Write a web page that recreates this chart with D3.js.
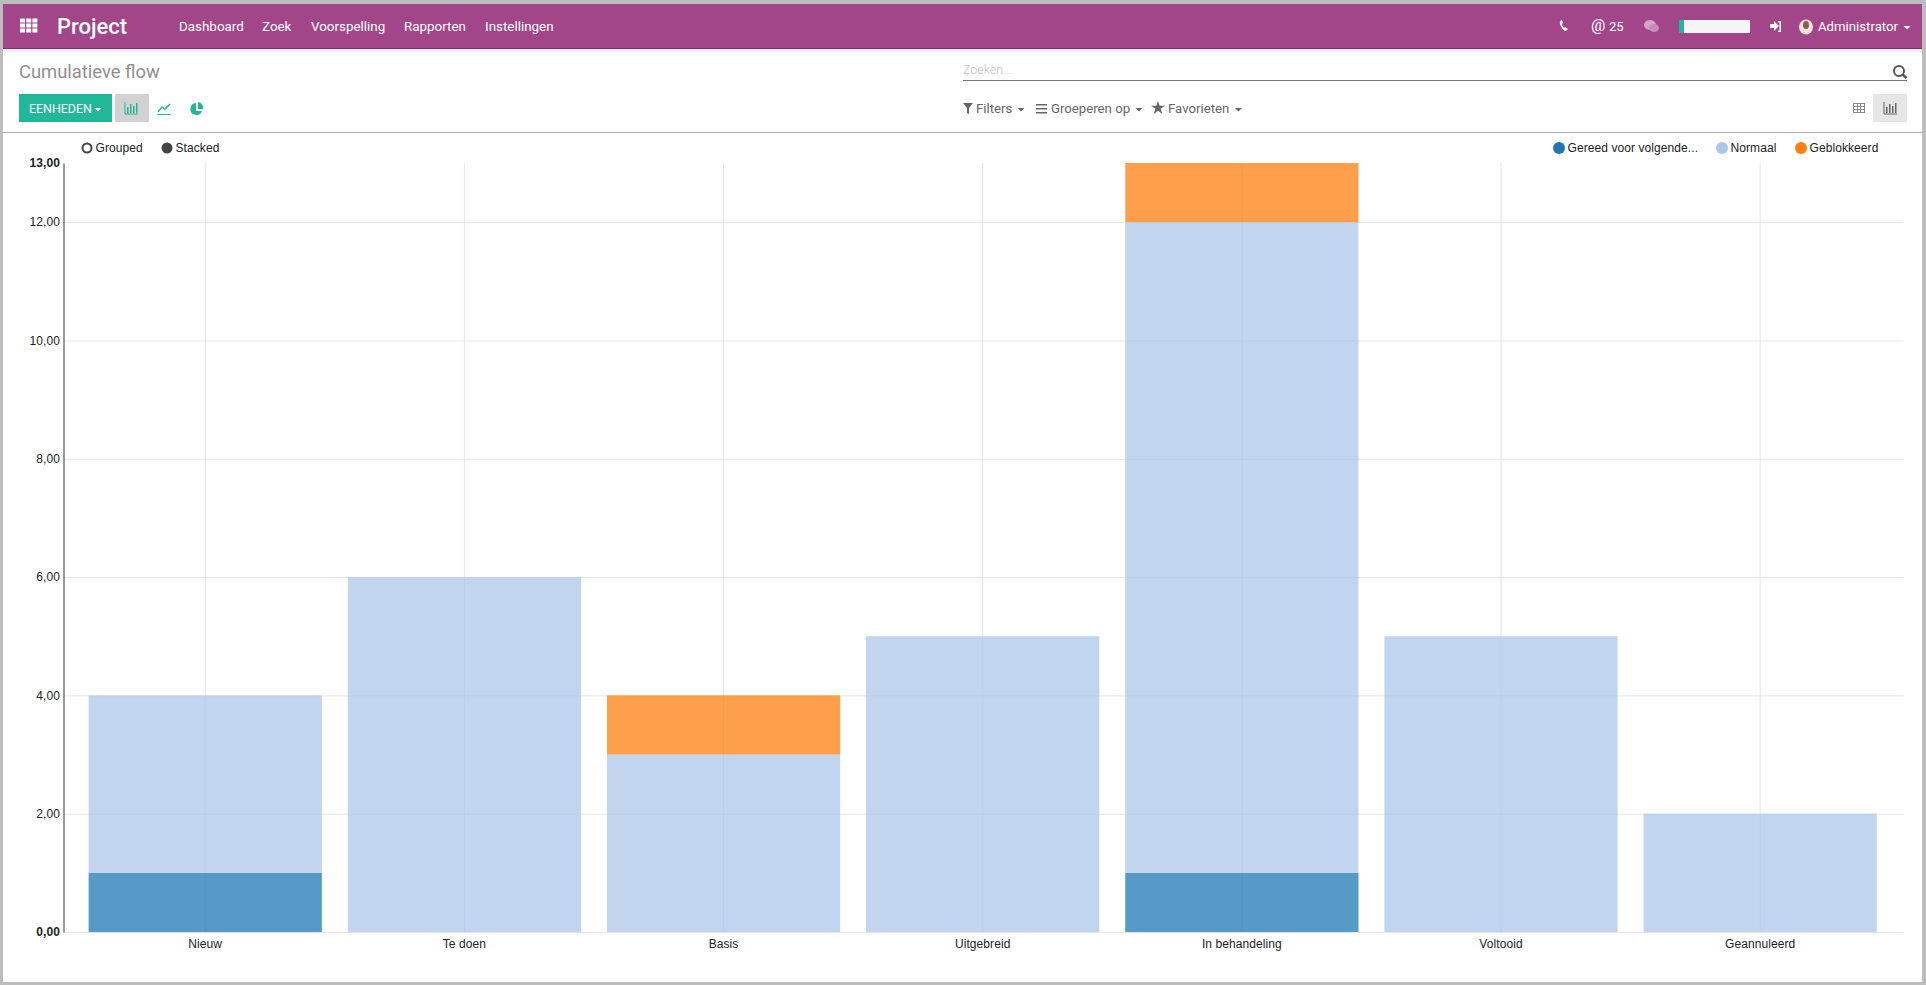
<!DOCTYPE html>
<html>
<head>
<meta charset="utf-8">
<title>Cumulatieve flow</title>
<script src="https://cdnjs.cloudflare.com/ajax/libs/d3/7.8.5/d3.min.js"></script>
<style>
  html, body { margin: 0; padding: 0; background: #fff; overflow: hidden; }
  svg { display: block; }
  .ui { font-family: Roboto, sans-serif; }
  .chart text { font-family: "Liberation Sans", Arial, sans-serif; font-size: 12px; fill: #222; letter-spacing: 0.08px; }
  .grid line { stroke: #e5e5e5; }
  .grid path { display: none; }
  .axis-y path { stroke: #333; }
  .axis-y line { display: none; }
  .axis-x path { stroke: #e5e5e5; }
  .axis-x line { display: none; }
</style>
</head>
<body>
<svg id="page" width="1926" height="985"></svg>
<script>
const categories = ["Nieuw", "Te doen", "Basis", "Uitgebreid", "In behandeling", "Voltooid", "Geannuleerd"];
const seriesNames = ["Gereed voor volgende...", "Normaal", "Geblokkeerd"];
const seriesColors = ["#1f77b4", "#aec7e8", "#ff7f0e"];
const gereed = [1, 0, 0, 0, 1, 0, 0];
const normaal = [3, 6, 3, 5, 11, 5, 2];
const geblokkeerd = [0, 0, 1, 0, 1, 0, 0];
const yTicks = [0, 2, 4, 6, 8, 10, 12, 13];
const navItems = [["Dashboard", 179], ["Zoek", 262], ["Voorspelling", 311], ["Rapporten", 404], ["Instellingen", 485]];

const svg = d3.select("#page");
const ui = svg.append("g").attr("class", "ui");

// window frame and top bar
ui.append("rect").attr("width", 1926).attr("height", 985).attr("fill", "#bdbdbd");
ui.append("rect").attr("x", 3).attr("y", 4).attr("width", 1919).attr("height", 978).attr("fill", "#fff");
ui.append("rect").attr("x", 3).attr("y", 49).attr("width", 1919).attr("height", 3).attr("fill", "#ececec");
ui.append("rect").attr("x", 3).attr("y", 4).attr("width", 1919).attr("height", 45).attr("fill", "#a24689");
ui.append("rect").attr("x", 3).attr("y", 48).attr("width", 1919).attr("height", 1).attr("fill", "#7c3068");

function label(text, x, y, size, color, weight) {
  return ui.append("text").attr("x", x).attr("y", y).attr("font-size", size)
    .attr("fill", color).attr("font-weight", weight || 400).text(text);
}

// app grid icon
d3.range(3).forEach(r => d3.range(3).forEach(c => {
  ui.append("rect").attr("x", 20 + c * 6.2).attr("y", 18.5 + r * 5)
    .attr("width", 5).attr("height", 4).attr("fill", "#fff");
}));
label("Project", 57, 34, 22, "#fff", 500);
navItems.forEach(d => label(d[0], d[1], 31, 13.4, "#fff", 400));

// right side of the top bar
ui.append("path").attr("d", "M1560 21c-1 3 2 9 6 10l2-2-3-2-1 1c-1-1-2-3-2-4l1-1-1-3z").attr("fill", "#fff");
label("@", 1591, 31, 16, "#fff");
label("25", 1609, 31, 13, "#fff");
ui.append("ellipse").attr("cx", 1650).attr("cy", 25).attr("rx", 6).attr("ry", 5).attr("fill", "#d5a3c8");
ui.append("ellipse").attr("cx", 1654).attr("cy", 28).attr("rx", 5).attr("ry", 4).attr("fill", "#c78db8");
ui.append("rect").attr("x", 1679).attr("y", 20).attr("width", 71).attr("height", 13).attr("fill", "#f5f5f5");
ui.append("rect").attr("x", 1679).attr("y", 20).attr("width", 5).attr("height", 13).attr("fill", "#21b799");
ui.append("path").attr("d", "M1770 24h4v-3l5 5-5 5v-3h-4zM1778 21h3v11h-3v-1.500h1.500v-8h-1.500z").attr("fill", "#fff");
ui.append("ellipse").attr("cx", 1806).attr("cy", 27).attr("rx", 7).attr("ry", 7.500).attr("fill", "#f1e4da");
ui.append("ellipse").attr("cx", 1806).attr("cy", 25).attr("rx", 3).attr("ry", 4).attr("fill", "#8a5f4a");
label("Administrator", 1818, 31, 13.2, "#fff", 400);
caret(1907, 26, "#fff");

function caret(x, y, color) {
  ui.append("path").attr("d", `M${x - 3.5} ${y}h7l-3.500 3.500z`).attr("fill", color);
}

// control panel
label("Cumulatieve flow", 19, 78, 18.4, "#8f8f8f");
ui.append("rect").attr("x", 19).attr("y", 94).attr("width", 93).attr("height", 28).attr("fill", "#21b799");
label("EENHEDEN", 29, 113, 12.4, "#fff", 400);
caret(98, 108, "#fff");
ui.append("rect").attr("x", 115).attr("y", 94).attr("width", 34).attr("height", 28).attr("fill", "#d2d2d2");

function barIcon(x, y, color) {
  ui.append("path").attr("d", `M${x} ${y}v12h13`).attr("fill", "none").attr("stroke", color);
  [[2, 6], [5, 9], [8, 7], [11, 10]].forEach(d => {
    ui.append("rect").attr("x", x + d[0]).attr("y", y + 11 - d[1])
      .attr("width", 1.5).attr("height", d[1]).attr("fill", color);
  });
}
barIcon(125, 102, "#21b799");
ui.append("path").attr("d", "M157 114.500h14").attr("stroke", "#21b799").attr("fill", "none");
ui.append("path").attr("d", "M158 112l4-5 3 2 5-5").attr("stroke", "#21b799").attr("stroke-width", 1.500).attr("fill", "none");
ui.append("path").attr("d", "M196 103a6 6 0 1 0 6 8h-6z").attr("fill", "#21b799");
ui.append("path").attr("d", "M198 102a6 6 0 0 1 5 7h-5z").attr("fill", "#21b799");

// search box
label("Zoeken...", 963, 74, 12.500, "#c2c2c2", 300);
ui.append("line").attr("x1", 963).attr("x2", 1907).attr("y1", 80.500).attr("y2", 80.500).attr("stroke", "#777");
ui.append("circle").attr("cx", 1899).attr("cy", 71).attr("r", 5).attr("fill", "none").attr("stroke", "#555").attr("stroke-width", 2);
ui.append("line").attr("x1", 1902.500).attr("y1", 74.500).attr("x2", 1906.500).attr("y2", 78).attr("stroke", "#555").attr("stroke-width", 2.500);

// filter row
ui.append("path").attr("d", "M963 103h10l-4 5v6l-2-1v-5z").attr("fill", "#666");
label("Filters", 976, 113, 13.2, "#666");
caret(1021, 108, "#666");
[104, 108, 112].forEach(y => ui.append("rect").attr("x", 1036).attr("y", y).attr("width", 11).attr("height", 1.500).attr("fill", "#666"));
label("Groeperen op", 1051, 113, 13.2, "#666");
caret(1139, 108, "#666");
ui.append("path").attr("d", d3.symbol(d3.symbolStar, 60)()).attr("transform", "translate(1158,108)").attr("fill", "#666");
label("Favorieten", 1168, 113, 13.2, "#666");
caret(1238.5, 108, "#666");

// view switcher
ui.append("rect").attr("x", 1853.500).attr("y", 103.500).attr("width", 11).attr("height", 9).attr("fill", "none").attr("stroke", "#888");
ui.append("path").attr("d", "M1853.500 106.500h11M1853.500 109.500h11M1857.500 103.500v9M1860.500 103.500v9").attr("stroke", "#888").attr("fill", "none");
ui.append("rect").attr("x", 1873).attr("y", 94).attr("width", 34).attr("height", 28).attr("fill", "#e6e6e6");
barIcon(1884, 102, "#666");
ui.append("line").attr("x1", 3).attr("x2", 1922).attr("y1", 132.500).attr("y2", 132.500).attr("stroke", "#aaa");

// chart
const margin = { left: 63.5, right: 1903.5, top: 163, bottom: 932 };
const chart = svg.append("g").attr("class", "chart");

const rows = categories.map((c, i) => ({
  category: c,
  [seriesNames[0]]: gereed[i],
  [seriesNames[1]]: normaal[i],
  [seriesNames[2]]: geblokkeerd[i]
}));
const stacked = d3.stack().keys(seriesNames)(rows);

// bars start a touch left of the axis offset the band scale would give
const x = d3.scaleBand().domain(categories).range([margin.left - 0.8, margin.right - 0.8]).paddingInner(0.1).paddingOuter(0.1);
const y = d3.scaleLinear().domain([0, 13]).range([margin.bottom, margin.top]);
const color = d3.scaleOrdinal().domain(seriesNames).range(seriesColors);
const fmt = v => d3.format(".2f")(v).replace(".", ",");

// grid lines sit under the translucent bars
chart.append("g").attr("class", "grid")
  .attr("transform", `translate(${margin.left},0)`)
  .call(d3.axisLeft(y).tickValues(yTicks.filter(v => v > 0 && v < 13))
    .tickSize(-(margin.right - margin.left)).tickFormat(""));
chart.append("g").attr("class", "grid")
  .attr("transform", `translate(0,${margin.bottom})`)
  .call(d3.axisBottom(x).tickSize(-(margin.bottom - margin.top)).tickFormat(""));

chart.selectAll("g.series").data(stacked).join("g").attr("class", "series")
  .attr("fill", d => color(d.key)).attr("fill-opacity", 0.75)
  .selectAll("rect").data(d => d.filter(p => p[1] > p[0])).join("rect")
  .attr("x", d => x(d.data.category))
  .attr("width", x.bandwidth())
  .attr("y", d => y(d[1]))
  .attr("height", d => y(d[0]) - y(d[1]));

const axisX = chart.append("g").attr("class", "axis-x")
  .attr("transform", `translate(0,${margin.bottom})`)
  .call(d3.axisBottom(x).tickSize(0).tickSizeOuter(0).tickPadding(7.5));
axisX.select("path").attr("d", `M${margin.left},0.5H${margin.right}`);
const axisY = chart.append("g").attr("class", "axis-y")
  .attr("transform", `translate(${margin.left},0)`)
  .call(d3.axisLeft(y).tickValues(yTicks).tickFormat(fmt).tickSize(0).tickSizeOuter(0).tickPadding(3.5));
axisY.selectAll("text").attr("font-weight", d => (d === 0 || d === 13) ? 700 : 400);

// legends
const legendLeft = chart.append("g");
[["Grouped", 87, false], ["Stacked", 167, true]].forEach(d => {
  legendLeft.append("circle").attr("cx", d[1]).attr("cy", 148).attr("r", d[2] ? 5.5 : 4.5)
    .attr("fill", d[2] ? "#444" : "#fff").attr("stroke", "#444").attr("stroke-width", d[2] ? 0 : 2);
  legendLeft.append("text").attr("x", d[1] + 8.5).attr("y", 152).text(d[0]);
});

const legendX = d3.scaleOrdinal().domain(seriesNames).range([1559, 1722, 1801]);
const legend = chart.selectAll("g.legend").data(seriesNames).join("g").attr("class", "legend")
  .attr("transform", d => `translate(${legendX(d)},148)`);
legend.append("circle").attr("r", 6).attr("fill", d => color(d));
legend.append("text").attr("x", 8.5).attr("y", 4).text(d => d);
</script>
</body>
</html>
